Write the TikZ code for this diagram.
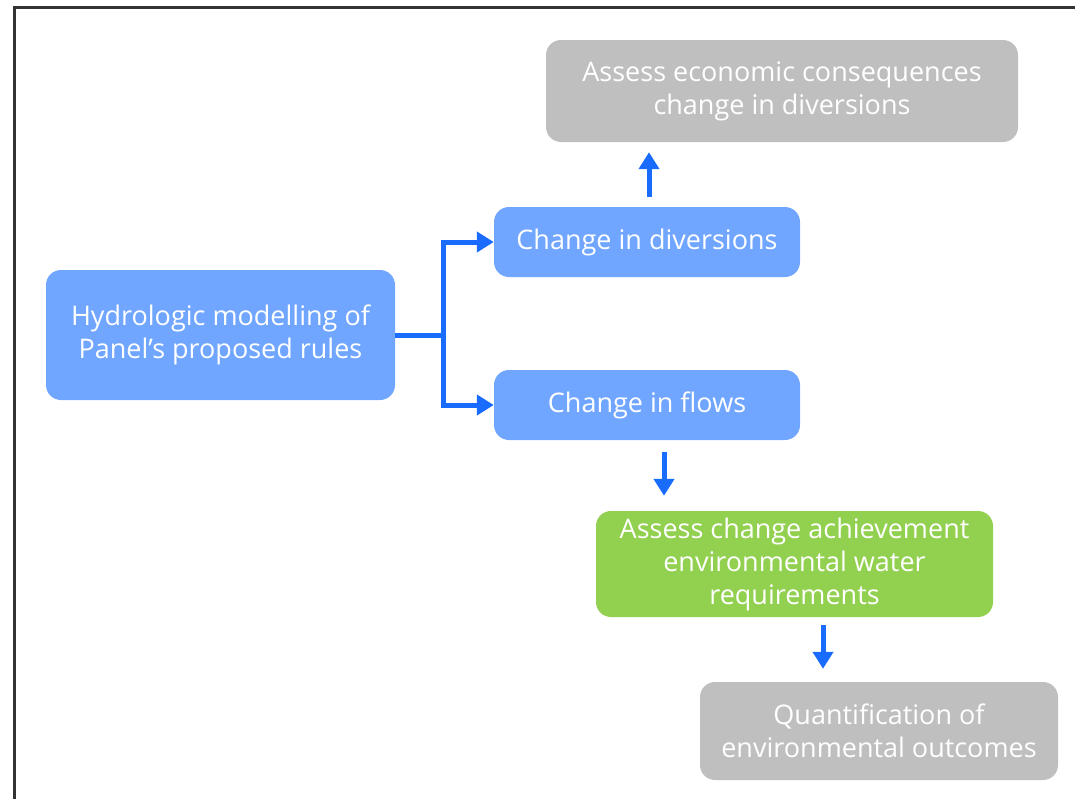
\documentclass[tikz,border=0pt]{standalone}
\usepackage{fontspec}
\setmainfont{Open Sans}
\usetikzlibrary{arrows.meta}

\definecolor{boxblue}{HTML}{70A6FF}
\definecolor{boxgrey}{HTML}{BFBFBF}
\definecolor{boxgreen}{HTML}{92D050}
\definecolor{arrowblue}{HTML}{1A6CFF}

\tikzset{%
  % Specifications for style of nodes:
         base/.style = {rectangle, rounded corners=15pt, draw=none, text=white, align=center, inner sep=0pt, font=\fontsize{27}{33}\selectfont},
         bluebox/.style = {base, fill=boxblue},
         greybox/.style = {base, fill=boxgrey},
         greenbox/.style = {base, fill=boxgreen},
         arrow/.style = {-{Triangle[length=17pt,width=20pt]}, line width=5pt, draw=arrowblue},
}

\begin{document}
\begin{tikzpicture}[x=1pt, y=-1pt]
    \useasboundingbox (0,0) rectangle (1075,798);
    % Frame
    \draw[line width=3pt, draw=black!80] (14,800) -- (14,7) -- (1080,7);

    % Draw nodes
    \node (model)  [bluebox, minimum width=349pt, minimum height=130pt]  at (220.5,335)  {Hydrologic modelling of\\Panel’s proposed rules};
    \node (div)    [bluebox, minimum width=306pt, minimum height=70pt]   at (647,242)    {Change in diversions};
    \node (flows)  [bluebox, minimum width=306pt, minimum height=70pt]   at (647,405)    {Change in flows};
    \node (econ)   [greybox, minimum width=472pt, minimum height=102pt]  at (782,91)     {Assess economic consequences\\change in diversions};
    \node (envreq) [greenbox, minimum width=397pt, minimum height=106pt] at (794.5,564)  {Assess change achievement\\environmental water\\requirements};
    \node (quant)  [greybox, minimum width=358pt, minimum height=98pt]   at (879,731)    {Quantification of\\environmental outcomes};

    % Draw arrows
    \coordinate (split) at (443,335);
    \draw[line width=5pt, draw=arrowblue] (model.east) -- (split);
    \draw[arrow] (split) |- (div.west);
    \draw[arrow] (split) |- (flows.west);

    \draw[arrow, shorten <=10pt, shorten >=10pt] ([xshift=2pt]div.north) -- ([xshift=2pt]div.north |- econ.south);
    \draw[arrow, shorten <=12pt, shorten >=15pt] ([xshift=17pt]flows.south) -- ([xshift=17pt]flows.south |- envreq.north);
    \draw[arrow, shorten <=8pt, shorten >=13pt] ([xshift=28.5pt]envreq.south) -- ([xshift=28.5pt]envreq.south |- quant.north);
\end{tikzpicture}
\end{document}
